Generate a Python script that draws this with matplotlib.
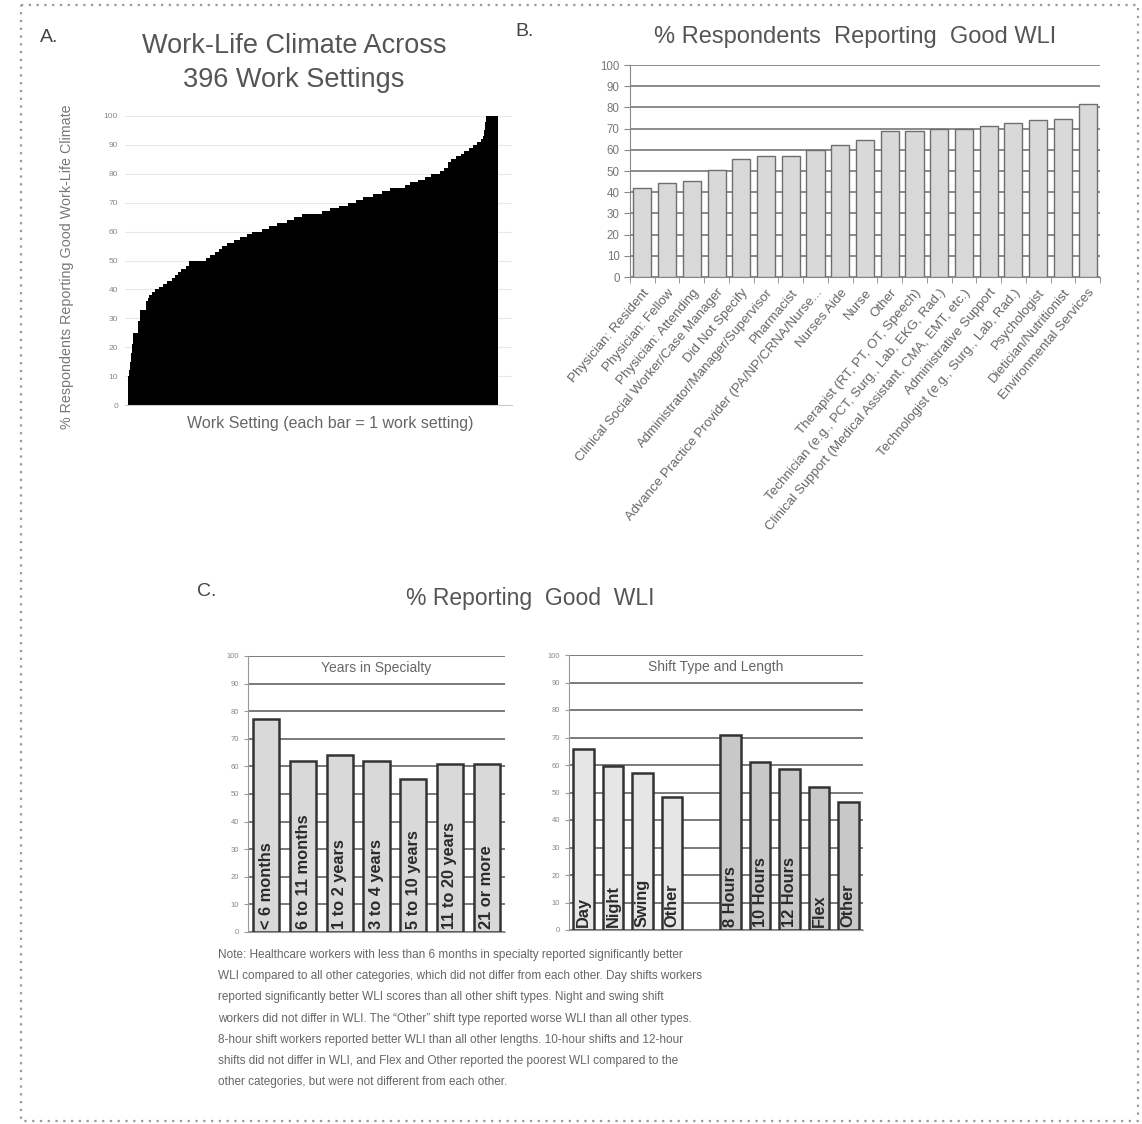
import matplotlib
matplotlib.use("Agg")
import matplotlib.pyplot as plt
from matplotlib.lines import Line2D

plt.rcParams['font.family'] = ['Liberation Sans', 'DejaVu Sans']

# ---- data ----
# panel A: sorted work-setting scores, read off as (value, number of bars) runs
setting_runs = [
    (10, 1), (12, 1), (15, 1), (18, 1), (21, 1), (25, 6), (29, 2), (33, 6),
    (36, 2), (37, 2), (38, 3), (39, 3), (40, 4), (41, 4), (42, 5), (43, 5),
    (44, 3), (45, 3), (46, 4), (47, 5), (48, 3), (50, 19), (51, 4), (52, 5),
    (53, 4), (54, 4), (55, 5), (56, 7), (57, 7), (58, 7), (59, 6), (60, 10),
    (61, 8), (62, 9), (63, 10), (64, 8), (65, 8), (66, 22), (67, 8), (68, 10),
    (69, 10), (70, 8), (71, 8), (72, 10), (73, 10), (74, 8), (75, 16), (76, 6),
    (77, 8), (78, 8), (79, 6), (80, 10), (81, 4), (82, 4), (84, 4), (85, 5),
    (86, 5), (87, 4), (88, 5), (89, 4), (90, 5), (91, 4), (92, 2), (93, 1),
    (95, 1), (98, 1), (100, 13),
]

# panel B
roles = [
    "Physician: Resident", "Physician: Fellow", "Physician: Attending",
    "Clinical Social Worker/Case Manager", "Did Not Specify",
    "Administrator/Manager/Supervisor", "Pharmacist",
    "Advance Practice Provider (PA/NP/CRNA/Nurse...", "Nurses Aide", "Nurse",
    "Other", "Therapist (RT, PT, OT, Speech)",
    "Technician (e.g., PCT, Surg., Lab, EKG, Rad.)",
    "Clinical Support (Medical Assistant, CMA, EMT, etc.)",
    "Administrative Support", "Technologist (e.g., Surg., Lab, Rad.)",
    "Psychologist", "Dietician/Nutritionist", "Environmental Services",
]
role_pct = [42, 44.5, 45.5, 50.5, 55.5, 57, 57.3, 60, 62.5, 64.5,
            69, 69, 70, 70, 71, 72.5, 74, 74.5, 81.5]

# panel C
years_labels = ["< 6 months", "6 to 11 months", "1 to 2 years", "3 to 4 years",
                "5 to 10 years", "11 to 20 years", "21 or more"]
years_pct = [77, 62, 64, 62, 55.5, 61, 61]

shift_type_labels = ["Day", "Night", "Swing", "Other"]
shift_type_pct = [66, 59.5, 57, 48.5]
shift_len_labels = ["8 Hours", "10 Hours", "12 Hours", "Flex", "Other"]
shift_len_pct = [71, 61, 58.5, 52, 46.5]

note_lines = [
    "Note: Healthcare workers with less than 6 months in specialty reported significantly better",
    "WLI compared to all other categories, which did not differ from each other. Day shifts workers",
    "reported significantly better WLI scores than all other shift types. Night and swing shift",
    "workers did not differ in WLI. The \u201cOther\u201d shift type reported worse WLI than all other types.",
    "8-hour shift workers reported better WLI than all other lengths. 10-hour shifts and 12-hour",
    "shifts did not differ in WLI, and Flex and Other reported the poorest WLI compared to the",
    "other categories, but were not different from each other.",
]

W, H = 1142, 1124


def box(l, r, t, b):
    return [l / W, 1 - b / H, (r - l) / W, (b - t) / H]


def fy(py):
    return 1 - py / H


fig = plt.figure(figsize=(W / 100, H / 100), dpi=100)

# ---------- panel A ----------
setting_vals = []
for v, n in setting_runs:
    setting_vals += [v] * n

axA = fig.add_axes(box(125, 512, 116, 405))
axA.bar(range(len(setting_vals)), setting_vals, width=1.0, color="black",
        linewidth=0, zorder=2)
axA.set_xlim(-3.7, 410.5)
axA.set_ylim(0, 100)
axA.set_yticks(range(0, 101, 10))
axA.yaxis.grid(True, color="#e8e8e8", linewidth=0.8, zorder=0)
axA.set_xticks([])
axA.tick_params(axis="y", length=0, labelsize=6, labelcolor="#888888", pad=5)
for s in ["top", "right", "left"]:
    axA.spines[s].set_visible(False)
axA.spines["bottom"].set_color("#cccccc")
axA.set_xlabel("Work Setting (each bar = 1 work setting)", fontsize=11.5,
               color="#666666")
axA.xaxis.set_label_coords((330 - 125) / (512 - 125), -11 / 289)
axA.set_ylabel("% Respondents Reporting Good Work-Life Climate", fontsize=10.3,
               color="#777777")
axA.yaxis.set_label_coords(-(125 - 74) / 387, 0.48)
fig.text(294 / W, fy(63), "Work-Life Climate Across\n396 Work Settings",
         ha="center", va="center", fontsize=19.5, color="#555555", linespacing=1.4)
fig.text(40 / W, fy(38), "A.", fontsize=14, color="#444444", va="center")

# ---------- panel B ----------
axB = fig.add_axes(box(630, 1100, 65, 277))
xb = range(len(roles))
axB.bar(xb, role_pct, width=0.73, color="#d9d9d9", edgecolor="#6e6e6e",
        linewidth=1.0, zorder=3)
axB.set_xlim(-0.5, len(roles) - 0.5)
axB.set_ylim(0, 100)
axB.set_yticks(range(0, 101, 10))
axB.yaxis.grid(True, color="#8a8a8a", linewidth=1.4, zorder=0)
axB.set_xticks(list(xb))
axB.set_xticklabels(roles, rotation=50, ha="right", va="top",
                    rotation_mode="anchor", fontsize=9.6, color="#666666")
axB.set_xticks([i - 0.5 for i in range(len(roles) + 1)], minor=True)
axB.tick_params(axis="x", which="major", length=0, pad=7)
axB.tick_params(axis="x", which="minor", length=4, color="#888888")
axB.tick_params(axis="y", length=4, color="#888888", labelsize=8.3,
                labelcolor="#777777")
for s in ["top", "right"]:
    axB.spines[s].set_visible(False)
axB.spines["left"].set_color("#888888")
axB.spines["bottom"].set_color("#888888")
fig.text(855 / W, fy(37), "% Respondents  Reporting  Good WLI", ha="center",
         va="center", fontsize=17, color="#555555")
fig.text(515 / W, fy(32), "B.", fontsize=14, color="#444444", va="center")

# ---------- panel C ----------
fig.text(530 / W, fy(598), "% Reporting  Good  WLI", ha="center", va="center",
         fontsize=16.5, color="#555555")
fig.text(197 / W, fy(592), "C.", fontsize=14, color="#444444", va="center")


def style_c(ax, title):
    ax.set_ylim(0, 100)
    ax.set_yticks(range(0, 101, 10))
    ax.yaxis.grid(True, color="#7a7a7a", linewidth=1.4, zorder=0)
    ax.tick_params(axis="y", length=3, color="#999999", labelsize=5.5,
                   labelcolor="#888888")
    ax.set_xticks([])
    for s in ["top", "right"]:
        ax.spines[s].set_visible(False)
    ax.spines["left"].set_color("#999999")
    ax.spines["bottom"].set_color("#999999")
    ax.text(0.5, 0.955, title, transform=ax.transAxes, ha="center", va="center",
            fontsize=10, color="#666666",
            bbox=dict(facecolor="white", edgecolor="none", pad=1))


def bar_labels(ax, xs, labels):
    for x, lab in zip(xs, labels):
        ax.text(x, 1.2, lab, rotation=90, ha="center", va="bottom",
                fontsize=11.8, fontweight="bold", color="#2a2a2a", zorder=4)


axC1 = fig.add_axes(box(248, 505, 656, 932))
xc1 = list(range(len(years_labels)))
axC1.bar(xc1, years_pct, width=0.71, color="#d9d9d9", edgecolor="#333333",
         linewidth=1.8, zorder=3)
axC1.set_xlim(-0.5, len(years_labels) - 0.5)
style_c(axC1, "Years in Specialty")
bar_labels(axC1, xc1, years_labels)

axC2 = fig.add_axes(box(569, 863, 655, 930))
xs_type = list(range(len(shift_type_labels)))
xs_len = [len(shift_type_labels) + 1 + i for i in range(len(shift_len_labels))]
axC2.bar(xs_type, shift_type_pct, width=0.7, color="#e6e6e6",
         edgecolor="#333333", linewidth=1.8, zorder=3)
axC2.bar(xs_len, shift_len_pct, width=0.7, color="#c8c8c8",
         edgecolor="#333333", linewidth=1.8, zorder=3)
axC2.set_xlim(-0.5, 9.5)
style_c(axC2, "Shift Type and Length")
bar_labels(axC2, xs_type, shift_type_labels)
bar_labels(axC2, xs_len, shift_len_labels)

# note text
for i, line in enumerate(note_lines):
    fig.text(218 / W, fy(955 + i * 21.2), line, ha="left", va="center",
             fontsize=8.5, color="#666666")

# dotted border
bx = [21 / W, 1138 / W, 1138 / W, 21 / W, 21 / W]
by = [fy(5), fy(5), fy(1121), fy(1121), fy(5)]
fig.add_artist(Line2D(bx, by, transform=fig.transFigure, color="#999999",
                      linestyle=(0, (1, 2.5)), linewidth=1.6))

fig.savefig("out.png", dpi=100, facecolor="white")
